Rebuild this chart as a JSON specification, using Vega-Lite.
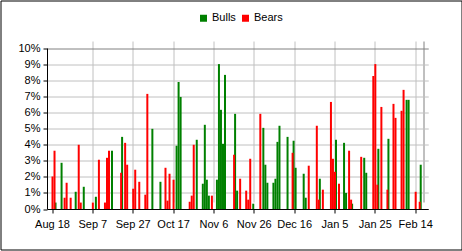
{
  "$schema": "https://vega.github.io/schema/vega-lite/v6.json",
  "width": 461,
  "height": 249,
  "autosize": "none",
  "padding": {"left": 0.5, "top": 0.5, "right": 0.5, "bottom": 1.5},
  "background": "white",
  "config": {
    "font": "Liberation Sans",
    "view": {"stroke": "black", "strokeWidth": 1, "fill": "white"}
  },
  "data": {
    "values": [
      {"date": "2008-08-18", "series": "Bears", "value": 0.0202},
      {"date": "2008-08-19", "series": "Bears", "value": 0.0362},
      {"date": "2008-08-19", "series": "Bulls", "value": 0.004},
      {"date": "2008-08-22", "series": "Bulls", "value": 0.0287},
      {"date": "2008-08-24", "series": "Bears", "value": 0.007},
      {"date": "2008-08-25", "series": "Bears", "value": 0.0163},
      {"date": "2008-08-27", "series": "Bears", "value": 0.007},
      {"date": "2008-08-29", "series": "Bulls", "value": 0.0107},
      {"date": "2008-08-31", "series": "Bears", "value": 0.0399},
      {"date": "2008-09-01", "series": "Bears", "value": 0.004},
      {"date": "2008-09-02", "series": "Bulls", "value": 0.0138},
      {"date": "2008-09-07", "series": "Bears", "value": 0.004},
      {"date": "2008-09-08", "series": "Bulls", "value": 0.0076},
      {"date": "2008-09-10", "series": "Bears", "value": 0.0306},
      {"date": "2008-09-13", "series": "Bears", "value": 0.004},
      {"date": "2008-09-14", "series": "Bears", "value": 0.0318},
      {"date": "2008-09-15", "series": "Bears", "value": 0.0362},
      {"date": "2008-09-16", "series": "Bulls", "value": 0.0362},
      {"date": "2008-09-21", "series": "Bears", "value": 0.0225},
      {"date": "2008-09-21", "series": "Bulls", "value": 0.0448},
      {"date": "2008-09-23", "series": "Bears", "value": 0.0411},
      {"date": "2008-09-24", "series": "Bears", "value": 0.0275},
      {"date": "2008-09-27", "series": "Bears", "value": 0.0126},
      {"date": "2008-09-28", "series": "Bears", "value": 0.0244},
      {"date": "2008-09-30", "series": "Bears", "value": 0.0169},
      {"date": "2008-10-03", "series": "Bears", "value": 0.0089},
      {"date": "2008-10-04", "series": "Bears", "value": 0.0715},
      {"date": "2008-10-06", "series": "Bulls", "value": 0.0498},
      {"date": "2008-10-10", "series": "Bulls", "value": 0.0169},
      {"date": "2008-10-13", "series": "Bears", "value": 0.0256},
      {"date": "2008-10-14", "series": "Bears", "value": 0.0052},
      {"date": "2008-10-15", "series": "Bears", "value": 0.0219},
      {"date": "2008-10-17", "series": "Bears", "value": 0.0182},
      {"date": "2008-10-18", "series": "Bulls", "value": 0.0393},
      {"date": "2008-10-19", "series": "Bulls", "value": 0.0789},
      {"date": "2008-10-20", "series": "Bulls", "value": 0.0696},
      {"date": "2008-10-25", "series": "Bears", "value": 0.0045},
      {"date": "2008-10-26", "series": "Bears", "value": 0.0083},
      {"date": "2008-10-27", "series": "Bears", "value": 0.0399},
      {"date": "2008-10-28", "series": "Bulls", "value": 0.043},
      {"date": "2008-10-31", "series": "Bulls", "value": 0.0157},
      {"date": "2008-11-01", "series": "Bulls", "value": 0.0523},
      {"date": "2008-11-02", "series": "Bulls", "value": 0.0182},
      {"date": "2008-11-03", "series": "Bulls", "value": 0.0083},
      {"date": "2008-11-05", "series": "Bears", "value": 0.0083},
      {"date": "2008-11-07", "series": "Bulls", "value": 0.0182},
      {"date": "2008-11-08", "series": "Bulls", "value": 0.09},
      {"date": "2008-11-09", "series": "Bulls", "value": 0.0616},
      {"date": "2008-11-10", "series": "Bulls", "value": 0.0405},
      {"date": "2008-11-11", "series": "Bulls", "value": 0.0833},
      {"date": "2008-11-16", "series": "Bears", "value": 0.0337},
      {"date": "2008-11-16", "series": "Bulls", "value": 0.0591},
      {"date": "2008-11-17", "series": "Bulls", "value": 0.0114},
      {"date": "2008-11-19", "series": "Bears", "value": 0.0188},
      {"date": "2008-11-22", "series": "Bears", "value": 0.0114},
      {"date": "2008-11-23", "series": "Bears", "value": 0.0058},
      {"date": "2008-11-24", "series": "Bears", "value": 0.0312},
      {"date": "2008-11-25", "series": "Bulls", "value": 0.0033},
      {"date": "2008-11-29", "series": "Bears", "value": 0.0591},
      {"date": "2008-11-30", "series": "Bulls", "value": 0.0504},
      {"date": "2008-12-01", "series": "Bulls", "value": 0.0275},
      {"date": "2008-12-02", "series": "Bulls", "value": 0.0163},
      {"date": "2008-12-05", "series": "Bulls", "value": 0.0163},
      {"date": "2008-12-06", "series": "Bulls", "value": 0.0188},
      {"date": "2008-12-07", "series": "Bulls", "value": 0.0417},
      {"date": "2008-12-08", "series": "Bulls", "value": 0.0517},
      {"date": "2008-12-12", "series": "Bulls", "value": 0.0448},
      {"date": "2008-12-15", "series": "Bears", "value": 0.0349},
      {"date": "2008-12-15", "series": "Bulls", "value": 0.0424},
      {"date": "2008-12-16", "series": "Bulls", "value": 0.0256},
      {"date": "2008-12-20", "series": "Bulls", "value": 0.0219},
      {"date": "2008-12-21", "series": "Bulls", "value": 0.007},
      {"date": "2008-12-23", "series": "Bears", "value": 0.0269},
      {"date": "2008-12-27", "series": "Bears", "value": 0.0517},
      {"date": "2008-12-28", "series": "Bears", "value": 0.0058},
      {"date": "2008-12-28", "series": "Bulls", "value": 0.0188},
      {"date": "2008-12-30", "series": "Bears", "value": 0.012},
      {"date": "2009-01-03", "series": "Bears", "value": 0.0665},
      {"date": "2009-01-04", "series": "Bears", "value": 0.0312},
      {"date": "2009-01-05", "series": "Bears", "value": 0.0231},
      {"date": "2009-01-05", "series": "Bulls", "value": 0.043},
      {"date": "2009-01-07", "series": "Bears", "value": 0.0157},
      {"date": "2009-01-09", "series": "Bulls", "value": 0.0411},
      {"date": "2009-01-10", "series": "Bulls", "value": 0.01},
      {"date": "2009-01-12", "series": "Bears", "value": 0.0362},
      {"date": "2009-01-13", "series": "Bears", "value": 0.0058},
      {"date": "2009-01-13", "series": "Bulls", "value": 0.0033},
      {"date": "2009-01-18", "series": "Bears", "value": 0.0324},
      {"date": "2009-01-19", "series": "Bulls", "value": 0.0318},
      {"date": "2009-01-20", "series": "Bulls", "value": 0.0225},
      {"date": "2009-01-24", "series": "Bears", "value": 0.0826},
      {"date": "2009-01-25", "series": "Bears", "value": 0.09},
      {"date": "2009-01-26", "series": "Bears", "value": 0.0151},
      {"date": "2009-01-26", "series": "Bulls", "value": 0.0374},
      {"date": "2009-01-28", "series": "Bears", "value": 0.0634},
      {"date": "2009-01-31", "series": "Bears", "value": 0.012},
      {"date": "2009-01-31", "series": "Bulls", "value": 0.0436},
      {"date": "2009-02-03", "series": "Bears", "value": 0.0653},
      {"date": "2009-02-04", "series": "Bears", "value": 0.0566},
      {"date": "2009-02-07", "series": "Bears", "value": 0.061},
      {"date": "2009-02-08", "series": "Bears", "value": 0.074},
      {"date": "2009-02-09", "series": "Bulls", "value": 0.0678},
      {"date": "2009-02-10", "series": "Bulls", "value": 0.0678},
      {"date": "2009-02-14", "series": "Bears", "value": 0.0107},
      {"date": "2009-02-16", "series": "Bears", "value": 0.0045},
      {"date": "2009-02-16", "series": "Bulls", "value": 0.0275}
    ]
  },
  "encoding": {
    "x": {
      "field": "date",
      "type": "temporal",
      "scale": {
        "type": "utc",
        "nice": false,
        "domain": [
          {"year": 2008, "month": 8, "date": 18, "utc": true},
          {"year": 2009, "month": 2, "date": 18, "utc": true}
        ],
        "range": [46.5, 427.75]
      },
      "axis": {
        "orient": "bottom",
        "title": null,
        "offset": -40.5,
        "values": [
          {"year": 2008, "month": 8, "date": 18, "utc": true},
          {"year": 2008, "month": 9, "date": 7, "utc": true},
          {"year": 2008, "month": 9, "date": 27, "utc": true},
          {"year": 2008, "month": 10, "date": 17, "utc": true},
          {"year": 2008, "month": 11, "date": 6, "utc": true},
          {"year": 2008, "month": 11, "date": 26, "utc": true},
          {"year": 2008, "month": 12, "date": 16, "utc": true},
          {"year": 2009, "month": 1, "date": 5, "utc": true},
          {"year": 2009, "month": 1, "date": 25, "utc": true},
          {"year": 2009, "month": 2, "date": 14, "utc": true},
          {"year": 2009, "month": 2, "date": 18, "utc": true}
        ],
        "labelExpr": "utcFormat(datum.value, '%b %-d')",
        "grid": true,
        "gridColor": {"condition": {"test": "datum.value > 1234800000000", "value": "#808080"}, "value": "#c0c0c0"},
        "gridOpacity": {"condition": {"test": "datum.value < 1220000000000", "value": 0}, "value": 1},
        "tickOpacity": {"condition": {"test": "datum.value > 1234800000000", "value": 0}, "value": 1},
        "labelOpacity": {"condition": {"test": "datum.value > 1234800000000", "value": 0}, "value": 1},
        "tickSize": 4,
        "tickColor": "black",
        "domainColor": "black",
        "labelColor": "black",
        "labelFont": "Liberation Sans",
        "labelFontSize": 11,
        "labelPadding": 5,
        "labelOverlap": false,
        "labelFlush": false
      }
    },
    "y": {
      "field": "value",
      "type": "quantitative",
      "stack": null,
      "scale": {"domain": [0, 0.1], "range": [208.5, 47.5], "nice": false, "zero": true},
      "axis": {
        "title": null,
        "offset": -46.5,
        "values": [0, 0.01, 0.02, 0.03, 0.04, 0.05, 0.06, 0.07, 0.08, 0.09, 0.1],
        "format": ".0%",
        "grid": true,
        "gridColor": {"condition": {"test": "datum.value > 0.095", "value": "#808080"}, "value": "#c0c0c0"},
        "gridOpacity": {"condition": {"test": "datum.value < 0.005", "value": 0}, "value": 1},
        "tickSize": 4,
        "tickColor": "black",
        "domainColor": "black",
        "labelColor": "black",
        "labelFont": "Liberation Sans",
        "labelFontSize": 11,
        "labelPadding": 3
      }
    },
    "color": {
      "field": "series",
      "type": "nominal",
      "scale": {"domain": ["Bulls", "Bears"], "range": ["#008000", "#ff0000"]},
      "legend": {
        "orient": "none",
        "legendX": 197.5,
        "legendY": 12,
        "direction": "horizontal",
        "title": null,
        "symbolType": "square",
        "symbolSize": 49,
        "symbolStrokeWidth": 0,
        "symbolOpacity": 1,
        "labelFont": "Liberation Sans",
        "labelFontSize": 11,
        "labelColor": "black",
        "labelOffset": 3,
        "columnPadding": 4,
        "padding": 0
      }
    }
  },
  "layer": [
    {
      "transform": [{"filter": "datum.series === 'Bulls'"}],
      "mark": {"type": "bar", "width": 2, "xOffset": 1.5}
    },
    {
      "transform": [{"filter": "datum.series === 'Bears'"}],
      "mark": {"type": "bar", "width": 2, "xOffset": 0.5}
    }
  ]
}
